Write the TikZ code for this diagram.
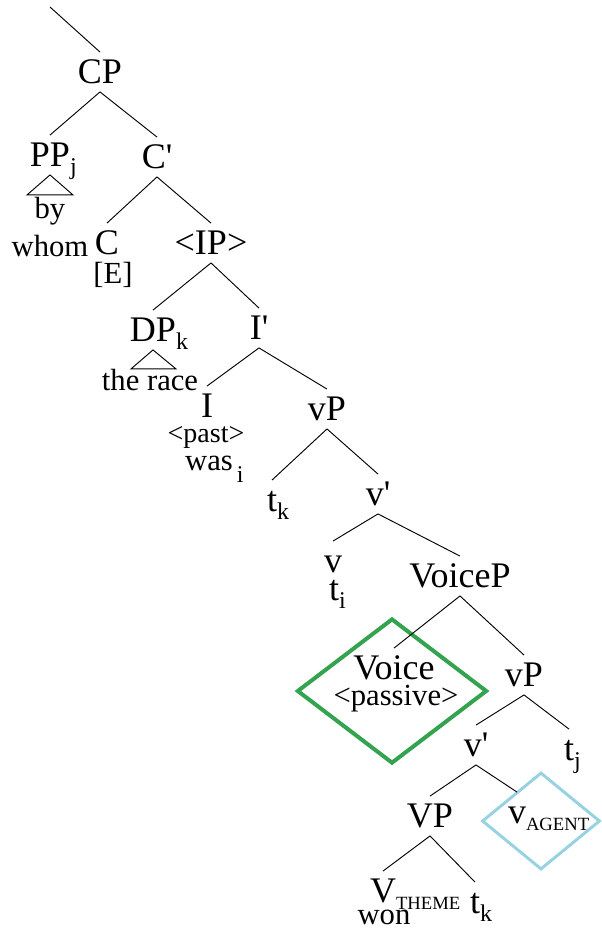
\documentclass[tikz,border=0pt]{standalone}
\usepackage{fontspec}
\setmainfont{Liberation Serif}[Ligatures=TeXOff]
\usepackage{tikz}
\usetikzlibrary{shapes.geometric}

\definecolor{voicegreen}{RGB}{52,163,79}
\definecolor{agentblue}{RGB}{150,210,225}

% subscripts on category labels, kept out of the label width
\newcommand{\sub}[1]{\rlap{\raisebox{-6pt}{\fontsize{18}{18}\selectfont #1}}}
\newcommand{\capsub}[1]{\rlap{\raisebox{-5pt}{\fontsize{14}{14}\selectfont #1}}}

\begin{document}
\begin{tikzpicture}[
        x=0.75pt, y=-0.75pt,
        cat/.style={
            inner xsep=1pt,
            inner ysep=6pt,
            text height=17.5pt,
            text depth=0pt,
            font=\fontsize{27}{29}\selectfont
        },
        word/.style={inner sep=0pt, anchor=base, font=\fontsize{23}{25}\selectfont},
        feature/.style={word, font=\fontsize{21}{23}\selectfont},
        branch/.style={line width=0.7pt},
        focus/.style={diamond, draw, inner sep=0pt},
        passivebox/.style={focus, draw=voicegreen, line width=3pt,
            minimum width=142.5pt, minimum height=108.75pt},
        agentbox/.style={focus, draw=agentblue, line width=2.2pt,
            minimum width=88.5pt, minimum height=72.75pt}
    ]
    \useasboundingbox (0,0) rectangle (601,929);

    % highlighted heads
    \node[passivebox] (voicebox) at (392,691) {};
    \node[agentbox] (agbox) at (541,821) {};

    % categories
    \coordinate (above) at (50,7);
    \node[cat] (cp) at (100,72) {CP};
    \node[cat] (pp) at (50,155) {PP\sub{j}};
    \node[cat] (cbar) at (157,157) {C'};
    \node[cat] (c) at (107,243) {C};
    \node[cat] (ip) at (211,243) {<IP>};
    \node[cat] (dp) at (153,330) {DP\sub{k}};
    \node[cat] (ibar) at (259,328) {I'};
    \node[cat] (i) at (207,406) {I};
    \node[cat] (vp) at (327,409) {vP};
    \node[cat] (tk) at (272,500) {t\sub{k}};
    \node[cat] (vbar) at (378,494) {v'};
    \node[cat] (v) at (333,561) {v};
    \node[cat] (voicep) at (460,576) {VoiceP};
    \node[cat] (voice) at (394,668) {Voice};
    \node[cat] (vplow) at (524,675) {vP};
    \node[cat] (tj) at (569,749) {t\sub{j}};
    \node[cat] (vbarlow) at (476,745) {v'};
    \node[cat] (vlp) at (430,816) {VP};
    \node[cat] (vag) at (517,812) {v\capsub{AGENT}};
    \node[cat] (vth) at (383,891) {V\capsub{THEME}};
    \node[cat] (tklow) at (475,902) {t\sub{k}};

    % words and features
    \node[word] (by) at (50,218) {by};
    \node[word] (whom) at (50,256) {whom};
    \node[word] (cfeat) at (113,283) {[E]};
    \node[word] (race) at (150,390) {the race};
    \node[feature] (past) at (206,442) {<past>};
    \node[word] (was) at (209,470) {was\rlap{\raisebox{-9pt}{\fontsize{18}{18}\selectfont\,i}}};
    \node[word] (ti) at (334,600) {\fontsize{27}{29}\selectfont t\sub{i}};
    \node[word] (passive) at (396,705) {<passive>};
    \node[word] (won) at (384,924) {won};

    % branches
    \draw[branch] (above) -- (cp.north);
    \draw[branch] (cp.south) -- (pp.north);
    \draw[branch] (cp.south) -- (cbar.north);
    \draw[branch] (pp.south) -- ++(-23,20) -- ++(46,0) -- cycle;
    \draw[branch] (cbar.south) -- (c.north);
    \draw[branch] (cbar.south) -- (ip.north);
    \draw[branch] (ip.south) -- (dp.north);
    \draw[branch] (ip.south) -- (ibar.north);
    \draw[branch] (dp.south) -- ++(-22,19) -- ++(45,0) -- cycle;
    \draw[branch] (ibar.south) -- (i.north);
    \draw[branch] (ibar.south) -- (vp.north);
    \draw[branch] (vp.south) -- (tk.north);
    \draw[branch] (vp.south) -- (vbar.north);
    \draw[branch] (vbar.south) -- (v.north);
    \draw[branch] (vbar.south) -- (voicep.north);
    \draw[branch] (voicep.south) -- (voice.north);
    \draw[branch] (voicep.south) -- (vplow.north);
    \draw[branch] (vplow.south) -- (vbarlow.north);
    \draw[branch] (vplow.south) -- (tj.north);
    \draw[branch] (vbarlow.south) -- (vlp.north);
    \draw[branch] (vbarlow.south) -- (vag.north);
    \draw[branch] (vlp.south) -- (vth.north);
    \draw[branch] (vlp.south) -- (tklow.north);
\end{tikzpicture}
\end{document}
